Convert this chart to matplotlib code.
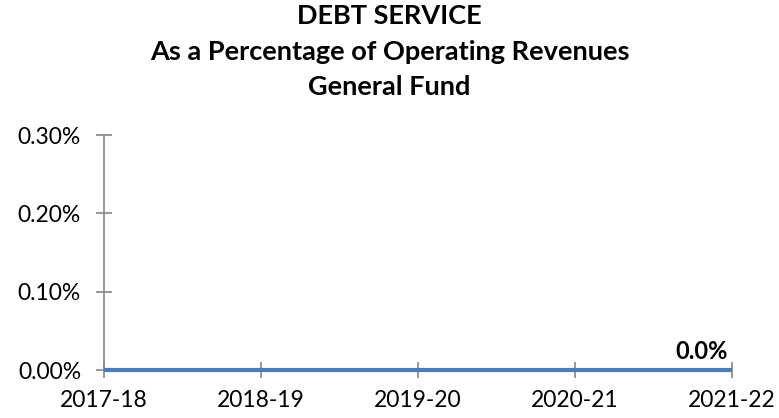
import matplotlib.pyplot as plt
from matplotlib.ticker import FuncFormatter

plt.rcParams['font.family'] = ['Lato', 'DejaVu Sans']

# Chart data
years = ['2017-18', '2018-19', '2019-20', '2020-21', '2021-22']
debt_pct = [0.0, 0.0, 0.0, 0.0, 0.0]   # debt service as fraction of operating revenues
y_ticks = [0.0, 0.001, 0.002, 0.003]

fig = plt.figure(figsize=(7.79, 4.18), dpi=100)
ax = fig.add_axes([0.1335, 0.1148, 0.8062, 0.5622])

x = list(range(len(years)))
ax.plot(x, debt_pct, color='#4A7EBB', linewidth=3, solid_capstyle='butt', zorder=3, clip_on=False)

ax.set_xlim(0, len(years) - 1)
ax.set_ylim(0, 0.003)
ax.set_xticks(x)
ax.set_xticklabels(years)
ax.set_yticks(y_ticks)
ax.yaxis.set_major_formatter(FuncFormatter(lambda v, p: f"{v * 100:.2f}%"))

for side in ['top', 'right']:
    ax.spines[side].set_visible(False)
for side in ['left', 'bottom']:
    ax.spines[side].set_color('#868686')
    ax.spines[side].set_linewidth(1.2)

ax.tick_params(axis='both', direction='inout', length=11, width=1.2, color='#868686',
               labelsize=16.5, labelcolor='black')
ax.tick_params(axis='x', pad=9)
ax.tick_params(axis='y', pad=11)

# data label for last point
ax.annotate(f"{debt_pct[-1] * 100:.1f}%", xy=(x[-1], debt_pct[-1]), xytext=(-3, 5),
            textcoords='offset points', ha='right', va='bottom',
            fontsize=17, fontweight='bold')

fig.text(0.5, 0.99, "DEBT SERVICE\nAs a Percentage of Operating Revenues\nGeneral Fund",
         ha='center', va='top', fontsize=19.5, fontweight='bold', linespacing=1.58)

fig.savefig('out.png', dpi=100)
